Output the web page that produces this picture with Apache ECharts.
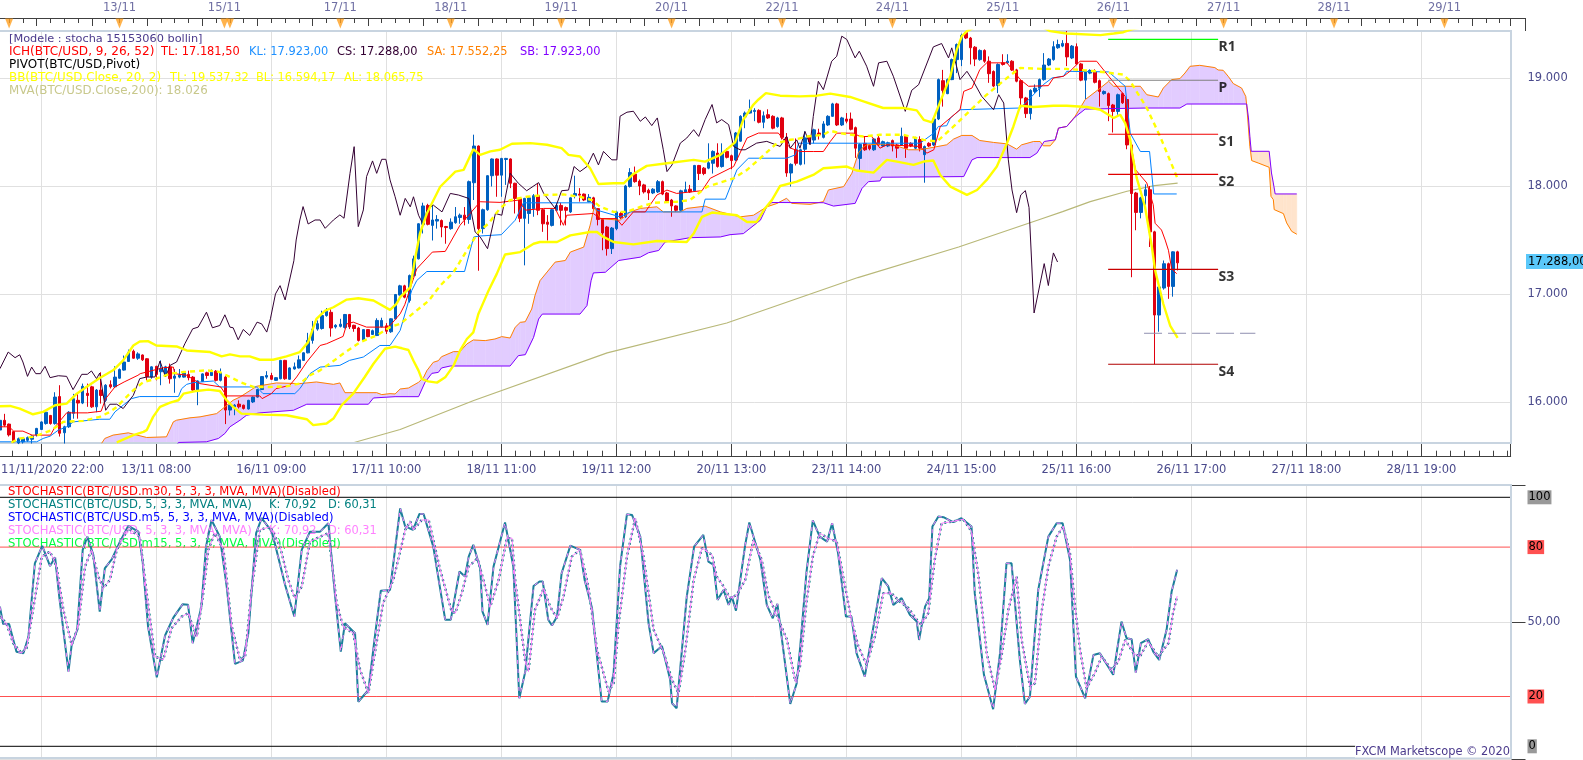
<!DOCTYPE html>
<html><head><meta charset="utf-8">
<style>html,body{margin:0;padding:0;background:#fff;overflow:hidden}#c{width:1583px;height:760px}</style>
<script src="https://cdn.jsdelivr.net/npm/echarts@6/dist/echarts.min.js"></script>
</head><body><div id="c"></div>
<script>
const firstBar = 16;
// [open, close, low, high] per hourly bar
const candleRows = [
[15740,15830,15700,15860],[15830,15785,15770,15890],[15795,15695,15680,15800],[15725,15630,15620,15730],[15620,15660,15610,15670],[15630,15660,15615,15670],[15645,15670,15630,15680],[15655,15685,15615,15690],[15695,15755,15680,15760],[15745,15815,15740,15820],
[15800,15905,15790,15910],[15875,15800,15790,15880],[15800,16045,15790,16090],[16050,15710,15680,16155],[15715,15770,15615,15780],[15770,15905,15760,15915],[15895,16030,15845,16075],[16015,15990,15845,16090],[15990,16145,15980,16170],[16080,16060,15955,16170],
[16140,15955,15945,16150],[15955,16110,15905,16120],[16110,16060,15985,16275],[16015,16155,16000,16165],[16160,16140,16125,16200],[16140,16230,16130,16330],[16220,16300,16215,16310],[16295,16370,16290,16430],[16375,16460,16370,16485],[16470,16405,16400,16485],
[16405,16445,16390,16460],[16435,16390,16380,16440],[16400,16235,16200,16405],[16230,16325,16215,16330],[16330,16255,16200,16335],[16280,16310,16155,16385],[16255,16325,16245,16335],[16325,16215,16170,16355],[16220,16240,16085,16305],[16230,16250,16220,16305],
[16230,16270,16225,16275],[16255,16225,16200,16290],[16230,16110,16090,16240],[16110,16195,15970,16200],[16190,16260,16185,16265],[16270,16245,16215,16280],[16245,16275,16240,16300],[16285,16200,16190,16295],[16200,16270,16190,16310],[16230,15925,15795,16240],
[15925,15970,15875,15975],[15955,15970,15877,15980],[15980,15955,15940,16015],[15970,15940,15930,15975],[15935,16015,15930,16020],[16000,16045,15990,16050],[16045,16115,16040,16120],[16115,16235,16110,16240],[16230,16245,16215,16285],[16245,16210,16205,16270],
[16200,16225,16195,16230],[16215,16385,16210,16390],[16385,16215,16205,16390],[16210,16315,16205,16320],[16305,16325,16300,16365],[16315,16390,16310,16430],[16385,16455,16380,16460],[16455,16570,16450,16640],[16570,16675,16540,16750],[16675,16725,16660,16755],
[16680,16800,16670,16845],[16800,16840,16790,16870],[16830,16685,16605,16860],[16695,16710,16680,16720],[16700,16720,16690,16770],[16690,16810,16680,16815],[16810,16695,16675,16815],[16710,16680,16650,16715],[16685,16570,16560,16695],[16570,16670,16560,16675],
[16670,16605,16600,16675],[16625,16660,16620,16670],[16615,16755,16610,16775],[16695,16755,16690,16780],[16705,16655,16630,16730],[16650,16770,16640,16775],[16770,16995,16765,17000],[16990,17075,16985,17085],
[17075,16970,16960,17085],[16940,17170,16920,17180],[17170,17325,17160,17355],[17325,17650,17320,17655],[17645,17815,17560,17845],[17820,17645,17635,17835],[17635,17685,17495,17825],[17675,17690,17605,17730],[17680,17620,17525,17690],[17625,17615,17465,17630],
[17605,17665,17595,17700],[17660,17715,17650,17805],[17708,17730,17650,17745],[17730,17690,17635,17805],[17690,18040,17650,18050],[18030,18370,17870,18475],[18370,17605,17215,18375],[17605,17780,17560,17790],[17780,18095,17770,18100],[18095,18250,17995,18255],
[18250,18100,17900,18255],[18100,18255,17900,18260],[18245,18255,18010,18260],[18250,18025,17980,18255],[18025,17885,17745,18030],[17885,17700,17665,17890],[17700,17885,17265,17890],[17745,17890,17650,17900],[17790,17910,17715,17925],[17910,17775,17730,18025],
[17780,17650,17575,17790],[17665,17645,17495,17730],[17635,17780,17625,17790],[17775,17820,17770,17840],[17820,17775,17635,17845],[17800,17775,17635,17810],[17760,17890,17750,17895],[17910,17930,17885,18095],[17925,17915,17855,17980],[17925,17870,17860,17930],
[17855,17895,17850,17925],[17890,17790,17780,17900],[17790,17690,17635,17795],[17690,17565,17405,17695],[17620,17420,17355,17630],[17420,17610,17370,17620],[17605,17760,17590,17770],[17745,17705,17695,17760],[17715,18000,17705,18010],[17995,18125,17985,18165],
[18110,18040,18030,18180],[18045,18000,17915,18060],[18010,17945,17930,18020],[17960,17935,17870,17975],[17935,17970,17925,17980],[17945,18040,17935,18055],[18040,17925,17915,18050],[17935,17860,17850,17945],[17870,17815,17715,17880],[17815,17775,17760,17820],
[17775,17955,17765,17965],[17945,17965,17935,18040],[17970,17945,17935,18010],[17955,18190,17945,18195],[18190,18115,18055,18195],[18165,18115,18100,18175],[18165,18215,18155,18395],[18210,18320,18115,18330],[18305,18180,18170,18395],[18180,18305,18170,18395],
[18320,18265,18255,18350],[18280,18235,18155,18290],[18240,18490,18230,18500],[18415,18645,18410,18655],[18640,18675,18535,18690],[18675,18705,18670,18800],[18690,18700,18600,18720],[18700,18590,18580,18710],[18590,18650,18535,18690],[18660,18630,18620,18710],
[18645,18535,18525,18655],[18550,18630,18540,18640],[18630,18450,18430,18640],[18450,18120,18085,18490],[18120,18200,17995,18210],[18335,18210,18190,18440],[18200,18335,18190,18345],[18340,18445,18200,18505],[18460,18410,18390,18470],[18425,18520,18395,18530],
[18490,18475,18430,18530],[18450,18575,18440,18600],[18565,18645,18555,18655],[18645,18760,18640,18770],[18760,18565,18555,18770],[18565,18630,18555,18640],[18620,18600,18580,18675],[18620,18525,18515,18680],[18540,18350,18260,18550],[18255,18385,18150,18395],
[18395,18335,18325,18460],[18375,18345,18330,18385],[18335,18435,18325,18445],[18445,18380,18370,18475],[18370,18410,18360,18420],[18370,18400,18360,18410],[18420,18370,18320,18430],[18380,18350,18260,18390],[18380,18460,18370,18540],[18460,18350,18260,18470],
[18395,18370,18360,18405],[18350,18445,18340,18455],[18430,18350,18320,18460],[18290,18365,18030,18375],[18395,18370,18360,18405],[18380,18620,18370,18630],[18620,18985,18610,18995],[18975,18885,18735,19075],[18855,18985,18850,18995],[18985,19170,18980,19180],
[19170,19310,19045,19320],[19170,19395,19110,19410],[19420,19370,19360,19430],[19370,19280,19125,19380],[19285,19175,19110,19295],[19170,19255,19160,19265],[19255,19155,19140,19265],[19155,19040,18955,19200],[19060,18925,18915,19070],[18930,19125,18860,19135],
[19140,19125,19115,19220],[19140,19155,19130,19220],[19155,19075,19065,19165],[19075,18970,18960,19085],[18975,18815,18720,18985],[18815,18670,18630,18825],[18670,18885,18615,18895],[18875,18905,18860,18940],[18905,18985,18825,18995],[18985,19120,18975,19230],
[19120,19175,19110,19185],[19170,19290,19160,19340],[19280,19310,19270,19355],[19295,19320,19285,19350],[19320,19195,19110,19435],[19185,19295,19175,19305],[19290,19130,19120,19320],[19130,18980,18970,19140],[18980,19060,18805,19070],[19045,19070,19035,19080],
[19055,18960,18950,19080],[18975,18875,18735,18985],[18855,18875,18845,18885],[18855,18745,18600,18865],[18750,18690,18495,18760],[18690,18845,18660,18855],[18855,18770,18760,18865],[18800,18380,18340,18810],[18380,17930,17155,18390],[17935,17755,17590,17945],
[17755,17890,17700,17900],[17910,17965,17825,18015],[17965,17575,17435,18000],[17575,16805,16350,17585],[16805,17065,16650,17075],[17055,17280,17040,17310],[17280,17070,16955,17290],[17070,17390,16975,17395],[17390,17288,17218,17400]
];
const tenkan = [[16,15770],[18,15770],[19,15730],[21,15730],[23,15693],[27,15693],[28,15770],[30.5,15899],[35,15899],[38,15914],[39,16031],[41,16139],[43,16185],[46,16247],[46.5,16262],[51.5,16317],[53.7,16323],[54,16262],[56.6,16247],[59.5,16170],[64,16139],[65.3,16056],[72.5,16056],[73,16031],[75,16077],[76,16123],[79,16154],[80.5,16231],[82.7,16370],[85.6,16523],[87,16539],[90.6,16607],[91.4,16723],[92.8,16739],[95.7,16693],[100,16693],[100.8,16708],[103,16816],[104,16900],[106.6,17232],[110,17388],[112.8,17394],[116,17636],[118.2,17745],[120.4,17854],[124.7,17848],[128.7,17869],[130.2,17776],[134.2,17792],[136.7,17792],[138.5,17636],[139.2,17729],[145,17745],[146.5,17698],[150,17698],[151.2,17636],[153.7,17760],[156.3,17760],[158.8,17916],[161,17962],[163.1,17931],[168.6,17956],[170.4,18071],[175.5,18180],[178.4,18444],[180.9,18490],[185.2,18490],[187.8,18351],[190,18319],[192.8,18319],[195,18319],[196.5,18412],[197.9,18489],[201.5,18489],[203,18458],[205.5,18458],[207.3,18350],[208.8,18381],[216,18366],[217.5,18304],[219,18335],[220.4,18551],[224.7,18706],[225.5,18876],[227.3,18907],[229,19078],[230.5,19140],[234.9,19140],[237.8,18985],[239.6,18923],[243.9,18929],[245,19000],[247.2,19016],[248.6,19062],[250.8,19155],[254.4,19155],[257,19016],[260.6,18830],[261,18644],[261.7,18427],[262.8,18153],[265.3,18028],[266.7,17826],[267.1,17655],[268.5,17592],[269.3,17499],[270,17405],[270.7,17234],[271.8,17187]];
const kijun = [[16,15631],[24,15631],[25.4,15662],[26.9,15683],[28.7,15739],[30.5,15770],[32,15816],[37.7,15840],[39.9,15840],[41,15908],[42.8,15970],[44.6,16031],[46.4,16050],[54.8,16050],[55.5,16123],[56.6,16163],[58,16179],[62.4,16194],[63.8,16139],[71.8,16139],[73.2,16077],[80.1,16077],[81.2,16123],[83.4,16262],[85.6,16323],[89.9,16339],[92,16385],[95,16416],[98.6,16523],[100.8,16523],[103,16662],[105.5,17030],[106.6,17124],[108.8,17208],[117,17208],[119,17528],[120.4,17537],[125,17549],[128,17683],[129.8,17844],[144.7,17844],[145.8,17776],[150.8,17714],[153,17760],[160.2,17760],[168.6,17760],[169.3,17878],[173.7,17878],[176.2,18149],[178.7,18257],[187,18257],[188.9,18288],[189.6,18396],[216,18396],[219,18489],[220,18551],[221.8,18558],[222.6,18629],[224.7,18706],[237.8,18722],[242.1,18907],[242.8,18938],[244.7,19000],[247.2,19016],[247.9,19062],[257,19056],[260.6,18923],[261.7,18489],[263.9,18319],[265.9,18319],[266.8,17926],[271.8,17926]];
const chikou = [[16,16308],[17.8,16462],[19.3,16410],[20.3,16437],[21,16370],[22,16237],[22.9,16323],[23.8,16262],[24.8,16262],[25.8,16330],[26.9,16225],[28.7,16243],[30.5,16237],[31.9,16114],[33.8,16256],[35,16256],[35.9,16287],[37,16216],[37.7,16268],[39,15923],[39.9,15979],[41.4,15979],[42.8,15939],[45,16062],[46.4,16216],[47.9,16231],[49.7,16231],[50.8,16379],[52,16231],[53,16339],[54.4,16370],[56.2,16539],[57.9,16677],[59.1,16693],[60.9,16831],[62.2,16687],[63.8,16708],[64.9,16807],[66,16693],[66.7,16687],[67.8,16576],[68.9,16671],[70.3,16616],[71.9,16739],[72.9,16723],[74,16647],[74.8,16770],[75.9,17000],[76.9,17077],[78,16945],[79.9,17308],[80.4,17500],[81.2,17685],[81.9,17809],[83,17648],[84.5,17685],[85.6,17685],[86.7,17608],[88.5,17685],[89.9,17732],[90.8,17701],[92.1,18117],[93,18364],[93.9,17624],[95,17778],[95.7,18087],[97,18232],[97.9,18117],[99,18247],[99.9,18247],[100.8,18056],[101.9,17901],[103,17729],[104.1,17885],[105.2,17807],[105.9,17900],[107,17729],[108.1,17636],[108.8,17776],[110.2,17823],[112.1,17760],[113.9,17931],[115.7,17916],[117.9,17885],[119.3,17574],[120.4,17528],[122,17419],[123.7,17745],[125.1,17729],[126.9,18118],[128.7,18025],[130.5,17956],[133.1,18031],[134.2,17931],[136.7,17792],[138.1,17956],[139.6,17962],[140.8,18180],[142.1,18133],[143.6,18180],[145,18304],[146.1,18195],[147.2,18320],[149,18242],[150.1,18242],[150.8,18646],[152.3,18683],[153.7,18692],[155.2,18599],[156.3,18639],[157.7,18559],[158.9,18630],[160.2,18335],[161,18133],[162.1,18195],[163.9,18397],[165.3,18444],[166.8,18521],[167.9,18459],[169.3,18615],[170.8,18754],[171.8,18584],[172.9,18615],[174.4,18568],[175.5,18366],[176.9,18335],[178,18335],[180.5,18397],[182.7,18413],[185.6,18366],[187,18460],[187.8,18350],[189.2,18427],[189.9,18350],[191,18505],[192.1,18381],[192.8,18644],[193.9,18969],[195,18892],[196.8,19155],[197.9,19201],[199,19387],[200.1,19356],[201.9,19186],[202.8,19248],[204.4,19109],[205.9,18923],[207,19140],[208.8,19155],[210.2,19016],[212.8,18691],[214.2,18886],[215.7,18938],[218.9,19288],[220.7,19319],[222.2,19186],[222.9,19279],[224.7,18985],[226.2,19062],[227.6,18969],[229.4,18830],[232,18706],[233.1,18845],[234.2,18768],[235.2,18242],[236,17963],[237,17753],[237.9,17917],[238.9,17957],[239.7,17800],[240.8,16824],[242.1,17094],[243,17281],[243.9,17078],[244.6,17281],[245,17380],[245.9,17296]];
const senkouA = [[38.1,15616],[38.8,15662],[40.6,15693],[43.9,15714],[45,15702],[47.9,15671],[52.2,15677],[53.7,15816],[54.4,15831],[57.3,15853],[59.5,15862],[63.1,15892],[64.9,15954],[66.7,16016],[68.2,16046],[71.8,16145],[76.1,16176],[81.2,16170],[84.8,16185],[88.5,16163],[89.9,16176],[91,16086],[97.9,16086],[99,16068],[100.8,16077],[101.9,16074],[103,16120],[104.8,16129],[107,16182],[108.1,16228],[108.8,16290],[110.2,16367],[111.3,16382],[112,16419],[114.6,16466],[116,16466],[117.5,16537],[118.9,16574],[121.5,16568],[123.6,16583],[125.1,16605],[126.9,16592],[128,16691],[129.1,16737],[130.2,16743],[131.6,16861],[132.3,16984],[133.4,17123],[136.7,17295],[138.9,17310],[140,17388],[142.9,17434],[144.3,17636],[145.2,17807],[146.5,17698],[150.8,17683],[153,17760],[155.2,17792],[158.8,17807],[160.2,17760],[163.9,17760],[165.3,17792],[169.3,17813],[172.6,17760],[176.9,17714],[179.8,17729],[182.7,17807],[184.9,17838],[187,17886],[188.1,17839],[192.1,17830],[195,17855],[196.1,17963],[199.4,17994],[201.2,18118],[202.6,18304],[203.4,18350],[204.4,18381],[209.5,18390],[213.5,18335],[216,18335],[221.8,18381],[223.3,18434],[225.1,18468],[227.3,18468],[229,18421],[232,18403],[234.9,18390],[237,18341],[238.1,18381],[240.7,18412],[242.1,18412],[242.8,18372],[244.3,18372],[245.4,18427],[246.1,18536],[247.9,18551],[249.7,18644],[251.9,18799],[255.2,18907],[257,18969],[258.1,18923],[263.9,18923],[265.3,18845],[267.8,18824],[268.9,18907],[270.7,18985],[272.5,18994],[273.6,19046],[274.7,19108],[276.8,19117],[280.1,19096],[280.8,19074],[281.9,19071],[283,19015],[284.1,18948],[285.9,18907],[286.8,18830],[287,18753],[287.4,18537],[287.7,18367],[287.9,18306],[288.1,18235],[289.5,18213],[291.9,18173],[292.3,17904],[292.8,17874],[293,17781],[295,17744],[295.7,17658],[296.8,17580],[297.9,17553]];
const senkouB = [[36,15480],[54,15560],[54.8,15625],[60.9,15631],[63.5,15662],[64.9,15708],[66,15770],[68.2,15831],[69.6,15877],[72.5,15899],[79.8,15923],[82.7,15979],[96.1,15979],[97.2,16037],[101.9,16049],[107,16049],[108.4,16182],[109.9,16265],[111.3,16274],[112,16315],[113.9,16333],[126.9,16333],[128.7,16429],[130.2,16438],[132,16598],[133.1,16768],[133.9,16814],[142.1,16814],[143.6,16892],[144.5,17123],[145,17195],[147.6,17201],[150.5,17310],[155.2,17341],[157,17382],[159.2,17403],[160.6,17481],[166,17521],[172.6,17528],[174.7,17549],[177.6,17559],[181.3,17683],[182.7,17807],[183.8,17847],[195,17845],[197.2,17814],[201.9,17839],[203.4,17978],[204.8,18040],[207.3,18047],[207.7,18081],[225.5,18087],[227.3,18242],[228.4,18263],[239.9,18263],[241.4,18304],[243,18412],[245.4,18427],[246.1,18536],[247.9,18551],[249.7,18638],[251.9,18712],[265.3,18722],[272.5,18722],[274,18759],[287,18759],[287.4,18630],[287.7,18460],[288,18321],[291.9,18321],[292.4,18120],[292.8,18028],[293.2,17926],[297.9,17926]];
const bollTop = [[16,15960],[18.2,15963],[20.3,15939],[23.2,15886],[25.4,15908],[28,15970],[30.5,15985],[32.7,16077],[34.8,16139],[37.7,16222],[40.6,16293],[42.8,16385],[45,16523],[46.4,16560],[48.2,16563],[50,16523],[54.4,16514],[56.6,16477],[61.7,16462],[64.2,16422],[66,16440],[68.2,16422],[70.3,16422],[72.5,16391],[75.4,16391],[78.3,16422],[81.2,16462],[83,16554],[84.8,16770],[86.7,16846],[88.5,16877],[91.4,16948],[93.9,16960],[97.2,16939],[100.8,16853],[102.2,16908],[103,16970],[105.2,17062],[106.3,17341],[107.3,17559],[108.8,17745],[111.7,17993],[115,18133],[116.8,18149],[118.9,18341],[120.4,18288],[122.6,18320],[124.7,18335],[127.3,18391],[131.3,18397],[134.9,18382],[138.1,18351],[139.6,18288],[142.1,18273],[144.3,18164],[146.1,18018],[149.4,18025],[151.6,18025],[153.7,18111],[156.6,18186],[161,18211],[166.8,18242],[169.3,18226],[172.6,18288],[175.8,18403],[177.6,18615],[179.8,18754],[180.9,18801],[182.5,18860],[185.6,18836],[189.9,18830],[193.6,18836],[196.5,18855],[200.8,18824],[203.7,18783],[208,18722],[212.4,18722],[215.3,18700],[216.8,18613],[218.6,18588],[220,18737],[222.6,19016],[224,19263],[225.1,19387],[226.2,19434],[235,19620],[243.6,19450],[244.3,19434],[247.9,19412],[255.2,19397],[258.1,19412],[260.2,19424],[262,19450],[272,19537]];
const bollMid = [[18.5,15625],[20.3,15662],[23.2,15677],[25.4,15708],[27.2,15739],[29.8,15816],[34.1,15825],[37.7,15862],[39.9,15908],[41.4,15954],[42.8,16016],[45,16108],[47.2,16185],[50,16216],[53,16262],[55.9,16277],[60.9,16293],[63.8,16277],[66,16231],[68.2,16185],[71.1,16139],[74.7,16139],[78.3,16145],[81.2,16170],[83.4,16247],[85.6,16293],[87.7,16354],[90.6,16446],[94.3,16554],[97.9,16616],[100.8,16693],[103,16723],[109.2,16937],[111.7,17077],[114.6,17201],[117.5,17403],[120,17574],[122.2,17652],[124.7,17792],[126.9,17869],[130.5,17900],[134.2,17916],[138.5,17922],[142.1,17900],[144.7,17869],[146.5,17807],[149.4,17760],[152.3,17760],[155.2,17807],[158.1,17844],[163.1,17854],[166,17869],[169.7,17993],[175.5,18071],[178.4,18149],[181.3,18257],[184.9,18397],[187.8,18428],[189.2,18434],[191.4,18458],[195,18474],[196.5,18511],[198.6,18489],[203.7,18458],[207.3,18474],[212.4,18474],[216.8,18427],[219.7,18412],[223.3,18551],[230.5,18845],[234.9,19000],[237.8,19093],[242.8,19084],[247.9,19084],[254.4,19062],[260.2,19031],[261.7,18969],[265.3,18722],[268.2,18458],[272,18066]];
const bollLow = [[41.4,15625],[45,15693],[47.2,15723],[47.9,15739],[49.3,15862],[50.8,15954],[53,15994],[54.8,16016],[55.9,16077],[58.8,16102],[61.3,16114],[63.8,16102],[65.3,16016],[66.7,15954],[68.5,15892],[73.2,15883],[78.3,15877],[82.7,15840],[84.1,15785],[87,15800],[88.5,15846],[90.3,15970],[92.8,16077],[95.3,16231],[97.2,16354],[99.7,16493],[101.9,16512],[103.4,16497],[104.8,16481],[105.9,16382],[107,16290],[107.7,16213],[109.1,16191],[111,16179],[112.8,16228],[114.6,16336],[116,16475],[117.5,16583],[118.9,16645],[120,16814],[121.1,16922],[122.2,17030],[124,17186],[125.8,17366],[129.1,17388],[132,17465],[133.4,17481],[137.1,17481],[140,17543],[144.3,17574],[145.8,17574],[147.2,17528],[149.4,17481],[153.7,17459],[158.8,17490],[165.3,17481],[166.8,17559],[168.6,17714],[170.8,17754],[176.2,17729],[178.4,17667],[180.5,17667],[182.3,17792],[183.8,17869],[185.6,18000],[189.2,18040],[192.8,18102],[195,18164],[200.1,18180],[202.3,18143],[205.9,18124],[208.8,18242],[211,18226],[214.6,18195],[216.8,18226],[218.9,18236],[220.4,18102],[222.6,17994],[226.2,17917],[228.4,17963],[230.5,18056],[232.7,18180],[234.9,18396],[236.3,18551],[237.8,18743],[240.7,18731],[245,18743],[247.9,18743],[252.3,18731],[255.2,18706],[258.1,18629],[259.5,18660],[260.6,18582],[261.7,18427],[262.1,18304],[263.1,18075],[264.9,17810],[266.4,17437],[267.1,17219],[268.9,16907],[270.4,16705],[272,16594]];
const movingAvg = [[93,15625],[98,15685],[103,15745],[119,16013],[148,16454],[174,16731],[202.5,17152],[224.4,17435],[242,17690],[247,17762],[253,17855],[261,17951],[267,18003],[272,18026]];
const stochK = [[16,56.1],[16.7,49.1],[18,49.1],[19.6,38],[21.1,37.4],[22.2,44],[23.6,73.5],[25.2,80.5],[26.9,72.4],[28,75.9],[28.9,60.1],[30.9,30],[31.6,40.7],[32.8,46.7],[34,78.9],[35,84.2],[36.3,76.9],[37.7,54.1],[38.8,71.5],[40.3,75.1],[42.1,82.2],[43.9,88.5],[46.1,86.2],[47,74.9],[48.2,48.1],[50.1,27.7],[51.9,44.5],[53.7,51.7],[55.7,57],[56.9,56.8],[57.9,41.4],[59.8,56.1],[60.8,80.2],[62,90.9],[63.8,84.2],[65.3,64.1],[67.1,33.1],[68.8,34.4],[70,45.4],[71.7,85.6],[72.9,91.6],[75.1,86.2],[76.1,78.9],[78,64.8],[80,52.1],[81.6,78.9],[83.4,86.2],[85.6,86.2],[87.4,89.6],[88.8,61.5],[90.1,38],[91,49.4],[93.2,45.4],[93.9,17.9],[96.1,22.6],[97.5,44],[98.8,62.5],[100.8,62.8],[103,95.6],[104.1,88.3],[105.8,86.9],[107.2,93.3],[108.1,93.3],[110.2,80.2],[112.8,50.8],[114,50.8],[115.9,70.2],[117.1,68.2],[117.9,76.2],[118.9,80.9],[120.4,71.5],[120.9,54.1],[122,48.8],[123.3,72.2],[125.8,89.9],[127.6,72.2],[128.9,19.3],[130.2,30],[132,64.4],[133.3,66.2],[134,66.2],[135.2,50.8],[136,48.5],[137.1,52.1],[138.1,69.5],[140,80.6],[142.1,78.9],[143.1,66.8],[144.7,55.5],[146.8,18],[148.1,18],[149.4,29.4],[150.8,72.2],[152.3,93.2],[153.4,92.9],[155.2,84.2],[157,49.4],[158.1,37.4],[159.9,40.3],[161.7,26.7],[162.1,17.3],[163.1,15.3],[165.3,60.1],[166.9,80.2],[168.9,84.9],[170,74.2],[171.1,72.9],[172,58.8],[173.3,62.8],[174.4,56.8],[175.1,60.1],[176,54.5],[178,80.9],[178.9,89.9],[181.3,74.9],[182.7,56.8],[184,51.4],[185,57.2],[187.8,17],[189.2,25.3],[190,40.7],[191.3,69.5],[192.7,90.7],[194.2,84.2],[195.8,82.2],[196.9,89.6],[198.2,77.5],[199.9,52.1],[201.1,52.1],[202.2,37.4],[204,28],[207.7,67.5],[209.1,64.2],[210.2,56.8],[212,59.5],[213.8,52.8],[215.3,50.1],[215.8,42.7],[217.1,56.1],[218,59.5],[218.7,88.3],[220,92.3],[221.1,92],[223.2,90],[225,91.6],[227.2,88.3],[227.9,61.5],[229.9,28.7],[231.9,14.9],[233.4,37.4],[234.8,73.5],[235.9,73.5],[237.7,34.7],[238.8,17],[239.9,20],[241.7,62.8],[243.9,84.2],[245.7,89.6],[247,89.6],[248.6,74.9],[249.9,28],[251.9,19.3],[253.7,36.7],[255.1,37.4],[258,28.7],[259.8,50.1],[260.9,43.4],[262,43],[262.9,29.6],[264,41.4],[265.6,43],[266.7,38],[268,34.7],[269.6,46.8],[270.7,62.2],[271.9,70.92]];
const stochD = [[16,52.1],[17.4,49.4],[18.9,41.4],[20.7,37.4],[21.8,39.4],[23.2,54.8],[25.1,76.2],[26.9,78.2],[28.3,72.2],[29.8,54.8],[31.6,40.7],[33,48.1],[34.5,72.2],[35.9,78.9],[37.4,68.2],[38.5,63.5],[39.9,66.8],[41.4,78.9],[43.9,87.6],[46.4,84.2],[47.9,61.5],[49.7,36],[51.5,34.7],[53.3,47.4],[55.5,52.1],[56.9,53.4],[58.8,44],[60.2,61.5],[61.3,78.9],[62.7,85.6],[64.6,78.9],[66.4,48.1],[68.2,34.7],[69.3,36],[70.7,62.8],[72.5,86.9],[74.7,88.2],[76.9,80.2],[78.7,66.8],[80.1,59.5],[81.6,64.1],[83.4,82.2],[85.6,84.2],[87.4,85.6],[89.2,57.5],[90.6,48.1],[92.8,45.4],[94.3,30.7],[96.1,21.3],[97.5,37.4],[99.3,57.5],[101.5,66.8],[103,78.2],[104.1,86.9],[105.2,90.3],[105.9,86.9],[107.7,90.9],[109.2,90.9],[110.2,82.9],[111.7,70.9],[114.2,54.1],[115,53.5],[116.4,61.5],[117.9,72.2],[119.8,75.5],[121.1,66.8],[122.6,56.1],[124.4,66.8],[126.2,83.6],[127.3,83.6],[128,66.8],[130.2,34],[130.9,30],[132.3,54.8],[134.2,63.5],[135.6,56.1],[137.1,51.4],[138.5,60.1],[140.3,76.2],[142.1,78.9],[143.9,64.2],[145.8,38.7],[148.3,22],[149.4,25.3],[150.5,49.4],[152.3,76.2],[154.1,91.6],[155.9,76.2],[158.1,46.8],[160.2,38],[162.1,26.7],[163.5,21.3],[165,38.7],[166.8,66.8],[168.6,79.6],[170.8,76.9],[171.8,68.2],[173.3,64.2],[174.7,59.5],[176.2,60.8],[178,66.8],[179.8,82.9],[181.6,74.9],[183,60.8],[185.6,49.4],[187.1,42.7],[188.9,26],[189.9,32],[191.3,57.5],[192.7,76.2],[194.2,85.6],[196,83.6],[197.9,82.2],[199.3,68.2],[201.1,50.8],[202.6,40.1],[204.4,32.7],[206.2,44.1],[208,61.5],[209.8,61.5],[211.6,58.1],[213.5,55.5],[215.3,50.8],[216.3,48.8],[217.8,53.5],[219.2,74.9],[220.7,89.6],[223.2,90.3],[225.4,91.2],[227.2,86.3],[228.7,68.8],[230.5,37.4],[232.3,22.7],[233.7,36],[235.2,54.8],[237,68.2],[238.1,42.7],[239.9,24],[241,25.3],[242.4,53.5],[243.9,72.2],[245.7,84.2],[247.1,88.3],[248.6,77.5],[249.7,56.1],[250.8,38.7],[252.2,23.3],[254,29.4],[255.5,36],[257.7,30.7],[259.1,34],[260.6,42.7],[262.4,37.4],[263.8,36],[265.6,42.1],[267.8,36],[270,41.4],[271,53.5],[271.9,60.31]];
const pivotNames = ['R1','P','S1','S2','S3','S4'];
const pivotValues = [19358,18979,18479,18108,17228,16349];
const pivotColors = ['#00ff00','#808080','#f00000','#e00000','#c80000','#b00000'];
const pivotSpan = [256.9,280.8];
const targetLevel = 16636, targetSpan = [264.7,288.9];
const dayBars = [18,42,64.8,66,90,114,138,162,186,210,234,258,282,306,330];
const dayLabels = ['','13/11','15/11','','17/11','18/11','19/11','20/11','22/11','24/11','25/11','26/11','27/11','28/11','29/11'];
const bottomLabels = ['11/11/2020 22:00','13/11 08:00','16/11 09:00','17/11 10:00','18/11 11:00','19/11 12:00','20/11 13:00','23/11 14:00','24/11 15:00','25/11 16:00','26/11 17:00','27/11 18:00','28/11 19:00'];

const FONT = '"DejaVu Sans"';
const FS = 11.5;
const AX = '#4a4a8c', GRID = '#e0e0e0';
const XMAX = 344.4, GL = -73.7, GW = 1584.4;

const at = (arr, n) => {
  if (n <= arr[0][0]) return arr[0][1];
  for (let i = 1; i < arr.length; i++) if (n <= arr[i][0]) {
    const t = (n - arr[i-1][0]) / (arr[i][0] - arr[i-1][0]);
    return arr[i-1][1] + t * (arr[i][1] - arr[i-1][1]);
  }
  return arr[arr.length-1][1];
};
const cloudNs = [...new Set([...senkouA, ...senkouB].map(p => p[0]))].filter(n => n >= senkouA[0][0] && n <= 297.9).sort((a,b)=>a-b);
const cloudRows = cloudNs.slice(1).map((n, i) => {
  const m = cloudNs[i];
  return [m, at(senkouA,m), at(senkouB,m), n, at(senkouA,n), at(senkouB,n)];
});

const line = (name, data, color, width, extra) => Object.assign({
  type:'line', name, data, showSymbol:false, symbol:'none', silent:true, animation:false,
  lineStyle:{color, width}, xAxisIndex:0, yAxisIndex:0, z:4
}, extra||{});
const stoch = (name, data, color, width, type, z) => line(name, data, color, width, {xAxisIndex:1, yAxisIndex:1, z, lineStyle:{color,width,type}});

const txt = (text, x, y, fill, size, opts) => ({type:'text', z:(opts&&opts.z)||1, style:Object.assign({text, x, y, fill, font:`${size}px ${FONT}`, verticalAlign:'middle', align:'left'}, (opts&&opts.style)||{})});
const seg = (x1,y1,x2,y2,stroke,w) => ({type:'line', z:3, shape:{x1,y1,x2,y2}, style:{stroke, lineWidth:w||1}});

const graphics = [
  {type:'rect', z:3, shape:{x:-3,y:31,width:1514,height:412}, style:{fill:'none',stroke:'#c8d4e0',lineWidth:2}},
  {type:'rect', z:3, shape:{x:-3,y:485,width:1514,height:273}, style:{fill:'none',stroke:'#c8d4e0',lineWidth:2}},
  seg(1510,18.5,1525.5,18.5,'#404040'), seg(1525.5,18,1525.5,31,'#404040'),
  txt('[Modele : stocha 15153060 bollin]',9,39,'#4b3a8c',11.3),
  txt('ICH(BTC/USD, 9, 26, 52)',9,52,'#ff0000',12.1),
  txt('TL: 17.181,50',161,52,'#ff0000',11.4),
  txt('KL: 17.923,00',249,52,'#1e90ff',11.4),
  txt('CS: 17.288,00',337,52,'#330033',11.4),
  txt('SA: 17.552,25',427,52,'#ff8000',11.4),
  txt('SB: 17.923,00',520,52,'#8000ff',11.4),
  txt('PIVOT(BTC/USD,Pivot)',9,65,'#000000',12),
  txt('BB(BTC/USD.Close, 20, 2)',9,78,'#ffff00',11.9),
  txt('TL: 19.537,32',170,78,'#ffff00',11.4),
  txt('BL: 16.594,17',256,78,'#ffff00',11.4),
  txt('AL: 18.065,75',344,78,'#ffff00',11.4),
  txt('MVA(BTC/USD.Close,200): 18.026',9,91,'#c8c88c',11.85),
  txt('STOCHASTIC(BTC/USD.m30, 5, 3, 3, MVA, MVA)(Disabled)',8,492,'#ff0000',11.6),
  txt('STOCHASTIC(BTC/USD, 5, 3, 3, MVA, MVA)',8,505,'#008080',11.6),
  txt('K: 70,92',269,505,'#008080',11.4),
  txt('D: 60,31',328,505,'#008080',11.4),
  txt('STOCHASTIC(BTC/USD.m5, 5, 3, 3, MVA, MVA)(Disabled)',8,518,'#0000ff',11.6),
  txt('STOCHASTIC(BTC/USD, 5, 3, 3, MVA, MVA)',8,531,'#ff80ff',11.6),
  txt('K: 70,92',269,531,'#ff80ff',11.4),
  txt('D: 60,31',328,531,'#ff80ff',11.4),
  txt('STOCHASTIC(BTC/USD.m15, 5, 3, 3, MVA, MVA)(Disabled)',8,544,'#00ff40',11.6),
  txt(bottomLabels[0],1,470,AX,FS),
  {type:'rect', z:5, shape:{x:1526,y:254,width:57,height:15}, style:{fill:'#5ac8fa'}},
  txt('17.288,00',1528,262,'#000000',FS,{z:6}),
  txt('FXCM Marketscope © 2020',1355,752,'#4b3a8c',11.4,{z:6, style:{backgroundColor:'#ffffff'}})
];

const baseX = (gridIndex, extra) => Object.assign({type:'value', gridIndex, min:0, max:XMAX, interval:25,
  axisLine:{show:false}, axisTick:{show:false}, axisLabel:{show:false},
  splitLine:{show:true, lineStyle:{color:GRID,width:1}}}, extra||{});

const option = {
  backgroundColor:'#ffffff', animation:false,
  grid:[
    {left:GL, top:31, width:GW, height:412, outerBoundsMode:'none'},
    {left:GL, top:484.85, width:GW, height:273.9, outerBoundsMode:'none'},
    {left:GL, top:18, width:GW, height:13, outerBoundsMode:'none'},
    {left:GL, top:443, width:GW, height:13.7, outerBoundsMode:'none'}
  ],
  xAxis:[
    baseX(0), baseX(1),
    {type:'value', gridIndex:2, min:0, max:XMAX, interval:12, position:'top', splitLine:{show:false},
     axisLine:{lineStyle:{color:'#404040'}}, axisLabel:{show:false},
     axisTick:{show:true, inside:true, length:8, lineStyle:{color:'#404040'}},
     minorTick:{show:true, splitNumber:4, length:5, lineStyle:{color:'#404040'}}},
    {type:'value', gridIndex:3, min:0, max:XMAX, interval:25, position:'bottom', splitLine:{show:false},
     axisLine:{lineStyle:{color:'#404040'}},
     axisTick:{show:true, inside:true, length:13.7, lineStyle:{color:'#404040'}},
     minorTick:{show:true, splitNumber:8, length:6, lineStyle:{color:'#404040'}},
     axisLabel:{show:true, margin:7, color:AX, fontFamily:FONT, fontSize:FS,
       formatter:v => { const i = v/25 - 1; return i >= 1 && bottomLabels[i] ? bottomLabels[i] : ''; }}}
  ],
  yAxis:[
    {type:'value', gridIndex:0, position:'right', offset:14.8, min:15620, max:19435, splitNumber:4,
     splitLine:{show:true, lineStyle:{color:GRID,width:1}},
     axisLine:{show:true, lineStyle:{color:'#404040'}},
     axisTick:{show:true, inside:true, length:14, lineStyle:{color:'#404040'}},
     minorTick:{show:true, splitNumber:10, length:4, lineStyle:{color:'#404040'}},
     axisLabel:{margin:2, color:AX, fontFamily:FONT, fontSize:FS,
       formatter:v => v % 1000 === 0 ? (v/1000).toFixed(0) + '.000' : ''}},
    {type:'value', gridIndex:1, position:'right', offset:14.8, min:-5, max:105, interval:5,
     splitLine:{show:false},
     axisLine:{show:true, lineStyle:{color:'#404040'}},
     axisTick:{show:true, inside:true, length:5, lineStyle:{color:'#404040'}},
     axisLabel:{margin:2, color:AX, fontFamily:FONT, fontSize:FS,
       rich:{g:{backgroundColor:'#999999',color:'#000',padding:[1,1],fontFamily:FONT,fontSize:FS},
             r:{backgroundColor:'#ff5050',color:'#000',padding:[1,1],fontFamily:FONT,fontSize:FS},
             p:{color:AX,fontFamily:FONT,fontSize:FS}},
       formatter:v => v===100||v===0 ? `{g|${v}}` : v===80||v===20 ? `{r|${v}}` : v===50 ? '{p|50,00}' : ''}},
    {type:'value', gridIndex:1, position:'right', offset:14.8, min:-5, max:105, interval:55,
     splitLine:{show:true, lineStyle:{color:GRID,width:1}},
     axisLine:{show:false}, axisLabel:{show:false},
     axisTick:{show:true, inside:true, length:14, lineStyle:{color:'#404040'}}},
    {type:'value', gridIndex:2, min:0, max:13, inverse:true, show:false},
    {type:'value', gridIndex:3, min:0, max:1, show:false}
  ],
  graphic:graphics,
  series:[
    {type:'custom', name:'Cloud', xAxisIndex:0, yAxisIndex:0, z:1, silent:true, clip:true, animation:false,
     data:cloudRows, encode:{x:[0,3], y:[1,2,4,5]},
     renderItem:(p, api) => {
       const n1=api.value(0), a1=api.value(1), b1=api.value(2), n2=api.value(3), a2=api.value(4), b2=api.value(5);
       const col = (a1+a2) >= (b1+b2) ? '#e2ccff' : '#ffe4cc';
       const pts = [api.coord([n1,a1]), api.coord([n2,a2]), api.coord([n2,b2]), api.coord([n1,b1])];
       return {type:'polygon', shape:{points:pts}, style:{fill:col, stroke:col, lineWidth:0.5},
         clipPath:{type:'rect', shape:{x:p.coordSys.x,y:p.coordSys.y,width:p.coordSys.width,height:p.coordSys.height}}};
     }},
    line('MVA', movingAvg, '#b8b878', 1.2, {z:2}),
    {type:'candlestick', name:'BTC/USD', xAxisIndex:0, yAxisIndex:0, z:3, silent:true, animation:false, barWidth:3,
     data:candleRows.map((r,i)=>[firstBar+i, r[0], r[1], r[2], r[3]]),
     itemStyle:{color:'#0060c0', color0:'#e00010', borderColor:'#0060c0', borderColor0:'#e00010', borderWidth:1}},
    line('Senkou A', senkouA, '#ff8000', 1),
    line('Senkou B', senkouB, '#8000ff', 1),
    line('Kijun', kijun, '#0080ff', 1),
    line('Tenkan', tenkan, '#ff0000', 1),
    line('Chikou', chikou, '#330033', 1),
    line('BB top', bollTop, '#ffff00', 2.4),
    line('BB low', bollLow, '#ffff00', 2.4),
    line('BB mid', bollMid, '#ffff00', 2.4, {lineStyle:{color:'#ffff00',width:2.4,type:[5,4]}}),
    ...pivotNames.map((nm,i)=>line('Pivot '+nm, [[pivotSpan[0],pivotValues[i]],[pivotSpan[1],pivotValues[i]]], pivotColors[i], 1.2)),
    line('Target', [[targetSpan[0],targetLevel],[targetSpan[1],targetLevel]], '#9090b0', 1, {lineStyle:{color:'#9090b0',width:1,type:[18,6]}}),
    {type:'scatter', name:'Pivot labels', xAxisIndex:0, yAxisIndex:0, z:5, silent:true, animation:false, symbolSize:1,
     itemStyle:{color:'transparent'},
     data:pivotNames.map((nm,i)=>({name:nm, value:[pivotSpan[1],pivotValues[i]]})),
     label:{show:true, position:'right', distance:0, offset:[0,8], formatter:'{b}', color:'#000', fontFamily:'"Noto Sans"', fontWeight:'bold', fontSize:14}},
    line('100', [[0,100],[XMAX,100]], '#000000', 1, {xAxisIndex:1, yAxisIndex:1, z:2}),
    line('80', [[0,80],[XMAX,80]], '#ff5050', 1, {xAxisIndex:1, yAxisIndex:1, z:2}),
    line('20', [[0,20],[XMAX,20]], '#ff5050', 1, {xAxisIndex:1, yAxisIndex:1, z:2}),
    line('0', [[0,0],[310.6,0]], '#000000', 1, {xAxisIndex:1, yAxisIndex:1, z:2}),
    stoch('D teal', stochD, '#008080', 2.4, [2,3], 3),
    stoch('K teal', stochK, '#1a7f9a', 2, 'solid', 4),
    stoch('D pink', stochD, '#ff80ff', 1, 'solid', 5),
    stoch('K pink', stochK, '#ff80ff', 1, [4,5], 5),
    {type:'scatter', name:'Days', xAxisIndex:2, yAxisIndex:3, z:5, silent:true, animation:false,
     symbol:'triangle', symbolRotate:180, symbolSize:[8,10], itemStyle:{color:'#ffa020'}, clip:false,
     data:dayBars.map((n,i)=>({value:[n,5.5], name:dayLabels[i]})),
     label:{show:true, position:'top', distance:4, formatter:'{b}', color:AX, fontFamily:FONT, fontSize:FS}}
  ]
};
const chart = echarts.init(document.getElementById('c'), null, {renderer:'canvas', width:1583, height:760});
chart.setOption(option);
</script></body></html>
